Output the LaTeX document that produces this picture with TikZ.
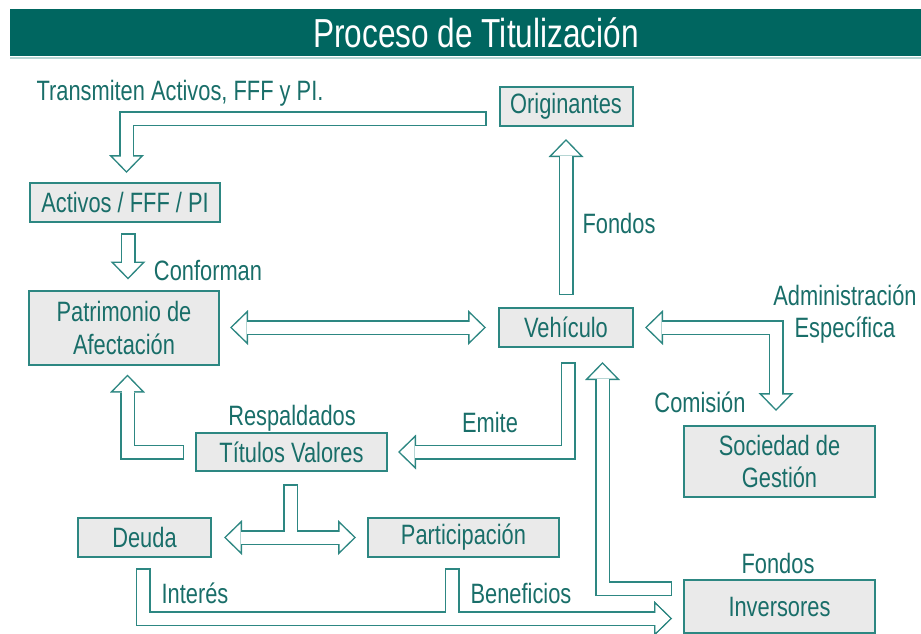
\documentclass[tikz,border=0pt]{standalone}
\usepackage{fontspec}
\setmainfont{Liberation Sans}[FakeStretch=0.78]
\usetikzlibrary{arrows.meta}
\definecolor{barteal}{RGB}{0,102,96}
\definecolor{lineteal}{RGB}{45,135,130}
\definecolor{textteal}{RGB}{25,110,105}
\definecolor{boxgray}{RGB}{234,234,234}

\begin{document}
\begin{tikzpicture}[x=1pt, y=-1pt,
  box/.style={draw=lineteal, line width=2pt, fill=boxgray, text=textteal, inner sep=0pt, align=center, font=\fontsize{28}{32}\selectfont},
  lbl/.style={text=textteal, inner sep=0pt, text height=20pt, text depth=0pt, font=\fontsize{28}{32}\selectfont},
  pipeout/.style={draw=lineteal, line width=15pt, line join=miter,
    >={Triangle[width=35pt 0 1, length=18pt 0 1, line width=0pt]}, dbl/.style={}},
  pipein/.style={draw=white, line width=12pt, line join=miter, shorten <=1.5pt, shorten >=2.15pt,
    >={Triangle[width=27.9pt 0 1, length=14.35pt 0 1, line width=0pt]}, dbl/.style={shorten <=2.15pt}}]
\useasboundingbox (0,0) rectangle (921,634);

%Title
\fill[barteal] (10,9) rectangle (921,56);
\draw[lineteal!35, line width=2pt] (10,58) -- (921,58);
\node[text=white, inner sep=0pt, text height=29pt, text depth=0pt, font=\fontsize{40.5}{44}\selectfont] (title) at (476,33) {Proceso de Titulización};

% Boxes
\node[box, minimum width=133pt, minimum height=39pt] (orig) at (566,106.5) {Originantes};
\node[box, minimum width=190pt, minimum height=39pt] (act) at (125,202.5) {Activos / FFF / PI};
\node[box, minimum width=190pt, minimum height=74pt] (pat) at (124,327.5) {Patrimonio de\\[1pt]Afectación};
\node[box, minimum width=134pt, minimum height=39pt] (veh) at (566,327.5) {Vehículo};
\node[box, minimum width=191pt, minimum height=38pt] (tit) at (291.5,452) {Títulos Valores};
\node[box, minimum width=191pt, minimum height=71pt] (soc) at (779.5,461.5) {Sociedad de\\Gestión};
\node[box, minimum width=133pt, minimum height=39pt] (deu) at (144.5,537.5) {Deuda};
\node[box, minimum width=191pt, minimum height=39pt] (par) at (463.5,537.5) {Participación};
\node[box, minimum width=191pt, minimum height=53pt] (inv) at (779.5,606.5) {Inversores};

% Labels
\node[lbl] (trans) at (180,90) {Transmiten Activos, FFF y PI.};
\node[lbl] (conf) at (208,270) {Conforman};
\node[lbl] (fon1) at (619,223) {Fondos};
\node[text=textteal, inner sep=0pt, align=center, font=\fontsize{28}{32}\selectfont] (admin) at (845,314) {Administración\\Específica};
\node[lbl] (resp) at (292,415) {Respaldados};
\node[lbl] (emite) at (490,422) {Emite};
\node[lbl] (comi) at (700,402) {Comisión};
\node[lbl] (inte) at (195,593) {Interés};
\node[lbl] (bene) at (521,593) {Beneficios};
\node[lbl] (fon2) at (778,563) {Fondos};

%Arrows (outline)
\draw[pipeout,->] ([shift={(-12,12)}]orig.west) -| ([shift={(1.5,-9)}]act.north);
\draw[pipeout,->] ([shift={(3,10)}]act.south) -- ([shift={(4,-10)}]pat.north);
\draw[pipeout,dbl,<->] ([xshift=10pt]pat.east) -- ([xshift=-12pt]veh.west);
\draw[pipeout,->] ([shift={(0,-12)}]veh.north) -- ([shift={(0,12)}]orig.south);
\draw[pipeout,->] ([shift={(2,14)}]veh.south) |- ([xshift=10pt]tit.east);
\draw[pipeout,->] ([xshift=-11pt]tit.west) -| ([shift={(3.5,9)}]pat.south);
\draw[pipeout,dbl,<->] ([xshift=11pt]veh.east) -| ([shift={(-3.5,-14)}]soc.north);
\draw[pipeout,->] ([shift={(-11,-18)}]inv.west) -| ([shift={(36.5,14)}]veh.south);
\draw[pipeout,->] ([shift={(-1,12)}]tit.south) |- ([xshift=12pt]deu.east);
\draw[pipeout,->] ([shift={(-1,12)}]tit.south) |- ([xshift=-11pt]par.west);
\draw[pipeout,->] ([shift={(-1.5,10)}]deu.south) |- ([shift={(-11,12)}]inv.west);
\draw[pipeout,->] ([shift={(-11.5,10)}]par.south) |- ([shift={(-11,12)}]inv.west);

%Arrows (inside)
\draw[pipein,->] ([shift={(-12,12)}]orig.west) -| ([shift={(1.5,-9)}]act.north);
\draw[pipein,->] ([shift={(3,10)}]act.south) -- ([shift={(4,-10)}]pat.north);
\draw[pipein,dbl,<->] ([xshift=10pt]pat.east) -- ([xshift=-12pt]veh.west);
\draw[pipein,->] ([shift={(0,-12)}]veh.north) -- ([shift={(0,12)}]orig.south);
\draw[pipein,->] ([shift={(2,14)}]veh.south) |- ([xshift=10pt]tit.east);
\draw[pipein,->] ([xshift=-11pt]tit.west) -| ([shift={(3.5,9)}]pat.south);
\draw[pipein,dbl,<->] ([xshift=11pt]veh.east) -| ([shift={(-3.5,-14)}]soc.north);
\draw[pipein,->] ([shift={(-11,-18)}]inv.west) -| ([shift={(36.5,14)}]veh.south);
\draw[pipein,->] ([shift={(-1,12)}]tit.south) |- ([xshift=12pt]deu.east);
\draw[pipein,->] ([shift={(-1,12)}]tit.south) |- ([xshift=-11pt]par.west);
\draw[pipein,->] ([shift={(-1.5,10)}]deu.south) |- ([shift={(-11,12)}]inv.west);
\draw[pipein,->] ([shift={(-11.5,10)}]par.south) |- ([shift={(-11,12)}]inv.west);
\end{tikzpicture}
\end{document}
